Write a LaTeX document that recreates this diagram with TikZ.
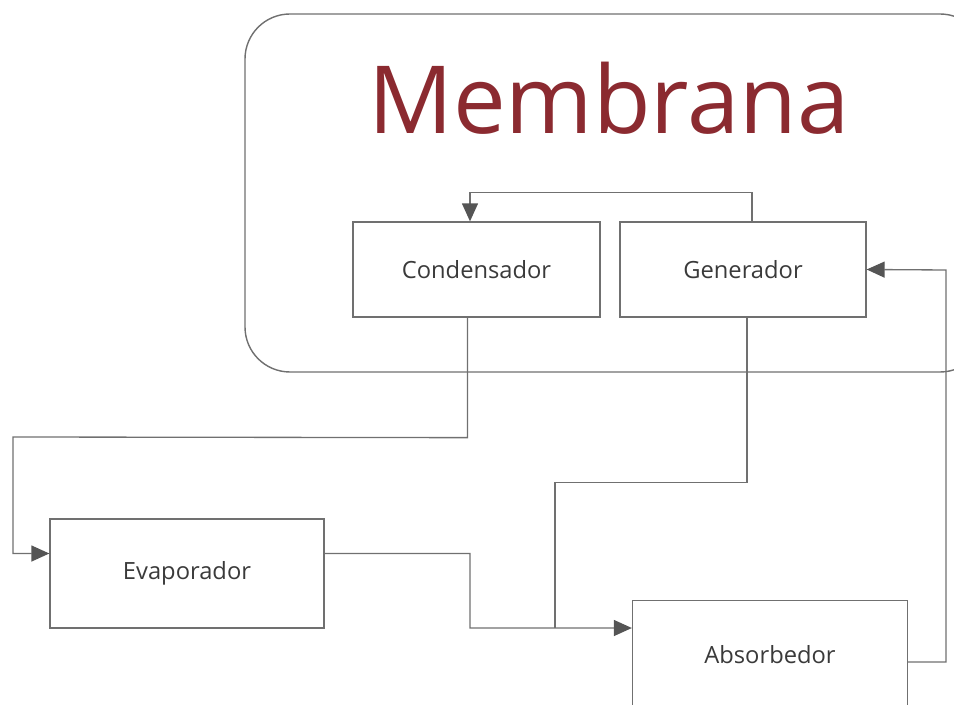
\documentclass[tikz,border=0pt]{standalone}
\usepackage{fontspec}
\setmainfont{Open Sans}
\usepackage{xcolor}
\usetikzlibrary{arrows.meta,positioning}
\definecolor{linegray}{HTML}{707070}
\definecolor{tipgray}{HTML}{555555}
\definecolor{textgray}{HTML}{3A3A3A}
\definecolor{membred}{HTML}{8B2A30}

\begin{document}
\begin{tikzpicture}[
  x=0.02cm, y=-0.02cm,
  unit/.style={draw=linegray, line width=0.75pt, align=center, inner sep=3pt,
               text=textgray, font=\fontsize{13.5}{15}\selectfont},
  arrow/.style={draw=linegray, line width=0.75pt,
                -{Triangle[length=0.36cm, width=0.32cm, fill=tipgray, color=tipgray]}},
  link/.style={draw=linegray, line width=0.75pt}
]
  \useasboundingbox (0,0) rectangle (954,705);
  % membrane enclosure
  \draw[linegray, line width=0.8pt, rounded corners=0.9cm] (245,14) rectangle (985,372);
  \node[text=membred, font=\fontsize{53.5}{60}\selectfont] (title) at (609,98) {Membrana};

  \node[unit, minimum width=4.94cm, minimum height=1.9cm] (cond) at (476.5,269.5) {Condensador};
  \node[unit, minimum width=4.92cm, minimum height=1.9cm] (gen) at (743,269.5) {Generador};
  \node[unit, minimum width=5.48cm, minimum height=2.18cm] (evap) at (187,573.5) {Evaporador};
  \node[unit, minimum width=5.5cm, minimum height=2.18cm] (abs) at (770,655) {Absorbedor};
  \coordinate (merge) at (555,628);

  \draw[arrow] ([xshift=0.18cm]gen.north) -- ++(0,-29) -| ([xshift=-0.13cm]cond.north);
  \draw[arrow] ([xshift=-0.18cm]cond.south) -- ++(0,120) -- (13,437) |- ([yshift=0.4cm]evap.west);
  \draw[arrow] ([yshift=0.4cm]evap.east) -| (470,628) -- ([yshift=0.54cm]abs.west);
  \draw[link] ([xshift=0.08cm]gen.south) -- ++(0,165) -| (merge);
  \draw[arrow] ([yshift=-0.14cm]abs.east) -| (946,270) -- (gen.east);
\end{tikzpicture}
\end{document}
